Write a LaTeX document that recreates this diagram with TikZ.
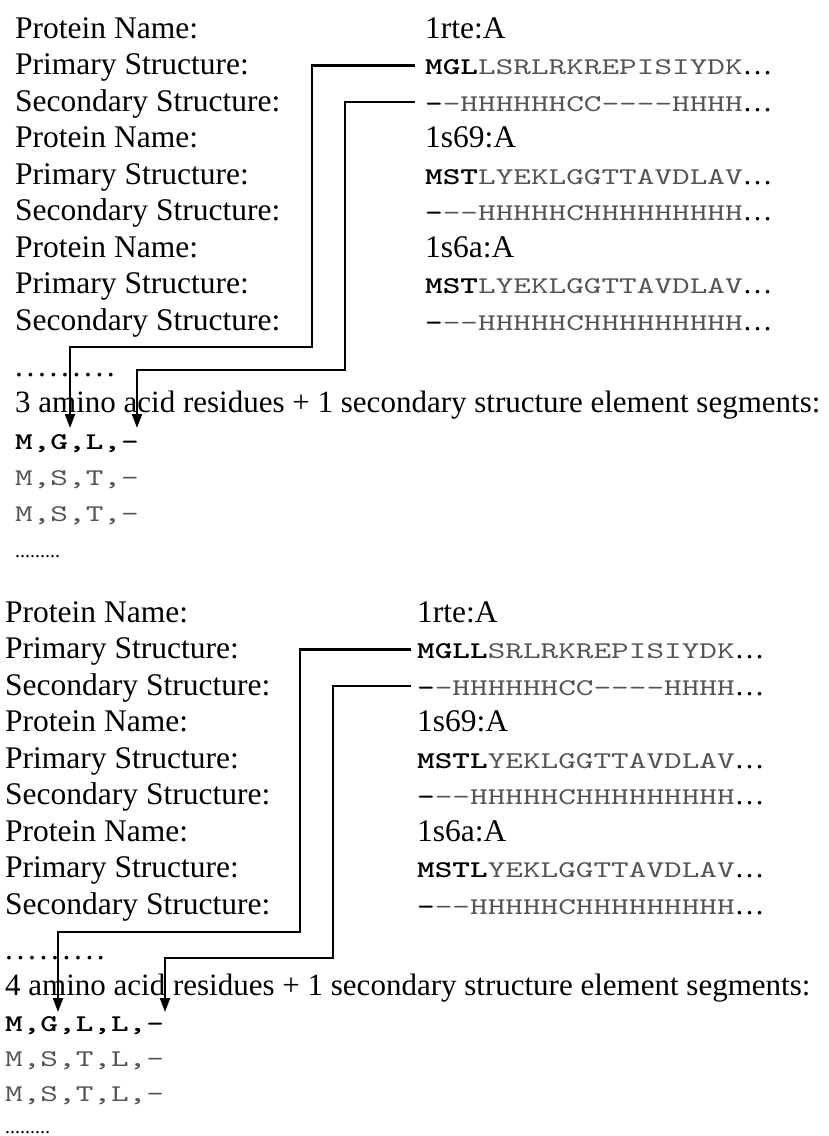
\documentclass[tikz,border=0pt]{standalone}
\usepackage{fontspec}
\setmainfont{Liberation Serif}
\newfontfamily\seqfont{lmmono10-regular.otf}[FakeStretch=1.4, BoldFont=lmmonolt10-bold.otf, Ligatures=TeXOff]
\usetikzlibrary{arrows.meta}
\definecolor{seqgray}{gray}{0.33}
\newcommand\keyres[1]{{\bfseries\color{black}#1}}
\newcommand\seqend{{\normalfont\color{black}\fontsize{30}{34}\selectfont\char"2026}}
\newcommand\spaceddots{.\kern3.6pt.\kern3.6pt.\kern3.6pt.\kern3.6pt.\kern3.6pt.\kern3.6pt.\kern3.6pt.\kern3.6pt.}
\tikzset{
  lbl/.style={anchor=base west, inner sep=0pt, text=black, font=\fontsize{31.5}{36}\selectfont},
  headline/.style={lbl, font=\fontsize{31}{36}\selectfont},
  seq/.style={anchor=base west, inner sep=0pt, text=seqgray, font=\seqfont\fontsize{24}{28}\selectfont},
  smalldots/.style={anchor=base west, inner sep=0pt, text=black, font=\fontsize{20}{22}\selectfont},
  conn/.style={line width=2.2pt, -{Triangle[length=14pt,width=10pt]}},
}
\begin{document}
\begin{tikzpicture}[x=1pt, y=-1pt]
\useasboundingbox (0,0) rectangle (829,1136);

% ---------- upper example: 3 residues + 1 SSE ----------
\node[lbl] (a0) at (15,38)    {Protein Name:};
\node[lbl] (a1) at (15,74.5)  {Primary Structure:};
\node[lbl] (a2) at (15,111)   {Secondary Structure:};
\node[lbl] (a3) at (15,147.5) {Protein Name:};
\node[lbl] (a4) at (15,184)   {Primary Structure:};
\node[lbl] (a5) at (15,220.5) {Secondary Structure:};
\node[lbl] (a6) at (15,257)   {Protein Name:};
\node[lbl] (a7) at (15,293.5) {Primary Structure:};
\node[lbl] (a8) at (15,330)   {Secondary Structure:};

\node[lbl] (b0) at (425,38)    {1rte:A};
\node[seq] (b1) at (425,74.5)  {\keyres{MGL}LSRLRKREPISIYDK\seqend};
\node[seq] (b2) at (425,111)   {\keyres{-}-HHHHHHCC----HHHH\seqend};
\node[lbl] (b3) at (425,147.5) {1s69:A};
\node[seq] (b4) at (425,184)   {\keyres{MST}LYEKLGGTTAVDLAV\seqend};
\node[seq] (b5) at (425,220.5) {\keyres{-}--HHHHHCHHHHHHHHH\seqend};
\node[lbl] (b6) at (425,257)   {1s6a:A};
\node[seq] (b7) at (425,293.5) {\keyres{MST}LYEKLGGTTAVDLAV\seqend};
\node[seq] (b8) at (425,330)   {\keyres{-}--HHHHHCHHHHHHHHH\seqend};

\node[lbl] (adots) at (15,376) {\spaceddots};
\node[headline] (ahead) at (15,412) {3 amino acid residues + 1 secondary structure element segments:};
\node[seq] (aout1) at (15,449) {\keyres{M,G,L,-}};
\node[seq] (aout2) at (15,485) {M,S,T,-};
\node[seq] (aout3) at (15,521) {M,S,T,-};
\node[smalldots] (aend) at (15,557) {.........};

\coordinate (ak1) at (312,347);
\coordinate (at1) at (70,428);
\coordinate (ak2) at (345,370);
\coordinate (at2) at (137,428);
\draw[conn] ([xshift=-10pt,yshift=9pt]b1.base west) -| (ak1) -| (at1);
\draw[conn] ([xshift=-10pt,yshift=9pt]b2.base west) -| (ak2) -| (at2);

% ---------- lower example: 4 residues + 1 SSE ----------
\node[lbl] (c0) at (5,622)   {Protein Name:};
\node[lbl] (c1) at (5,658.5) {Primary Structure:};
\node[lbl] (c2) at (5,695)   {Secondary Structure:};
\node[lbl] (c3) at (5,731.5) {Protein Name:};
\node[lbl] (c4) at (5,768)   {Primary Structure:};
\node[lbl] (c5) at (5,804.5) {Secondary Structure:};
\node[lbl] (c6) at (5,841)   {Protein Name:};
\node[lbl] (c7) at (5,877.5) {Primary Structure:};
\node[lbl] (c8) at (5,914)   {Secondary Structure:};

\node[lbl] (d0) at (417,622)   {1rte:A};
\node[seq] (d1) at (417,658.5) {\keyres{MGLL}SRLRKREPISIYDK\seqend};
\node[seq] (d2) at (417,695)   {\keyres{-}-HHHHHHCC----HHHH\seqend};
\node[lbl] (d3) at (417,731.5) {1s69:A};
\node[seq] (d4) at (417,768)   {\keyres{MSTL}YEKLGGTTAVDLAV\seqend};
\node[seq] (d5) at (417,804.5) {\keyres{-}--HHHHHCHHHHHHHHH\seqend};
\node[lbl] (d6) at (417,841)   {1s6a:A};
\node[seq] (d7) at (417,877.5) {\keyres{MSTL}YEKLGGTTAVDLAV\seqend};
\node[seq] (d8) at (417,914)   {\keyres{-}--HHHHHCHHHHHHHHH\seqend};

\node[lbl] (cdots) at (5,959) {\spaceddots};
\node[headline] (chead) at (5,995) {4 amino acid residues + 1 secondary structure element segments:};
\node[seq] (cout1) at (5,1031) {\keyres{M,G,L,L,-}};
\node[seq] (cout2) at (5,1066) {M,S,T,L,-};
\node[seq] (cout3) at (5,1101) {M,S,T,L,-};
\node[smalldots] (cend) at (5,1133) {.........};

\coordinate (ck1) at (300,932);
\coordinate (ct1) at (58,1012);
\coordinate (ck2) at (333,958);
\coordinate (ct2) at (165,1012);
\draw[conn] ([xshift=-6pt,yshift=9pt]d1.base west) -| (ck1) -| (ct1);
\draw[conn] ([xshift=-6pt,yshift=9pt]d2.base west) -| (ck2) -| (ct2);
\end{tikzpicture}
\end{document}
